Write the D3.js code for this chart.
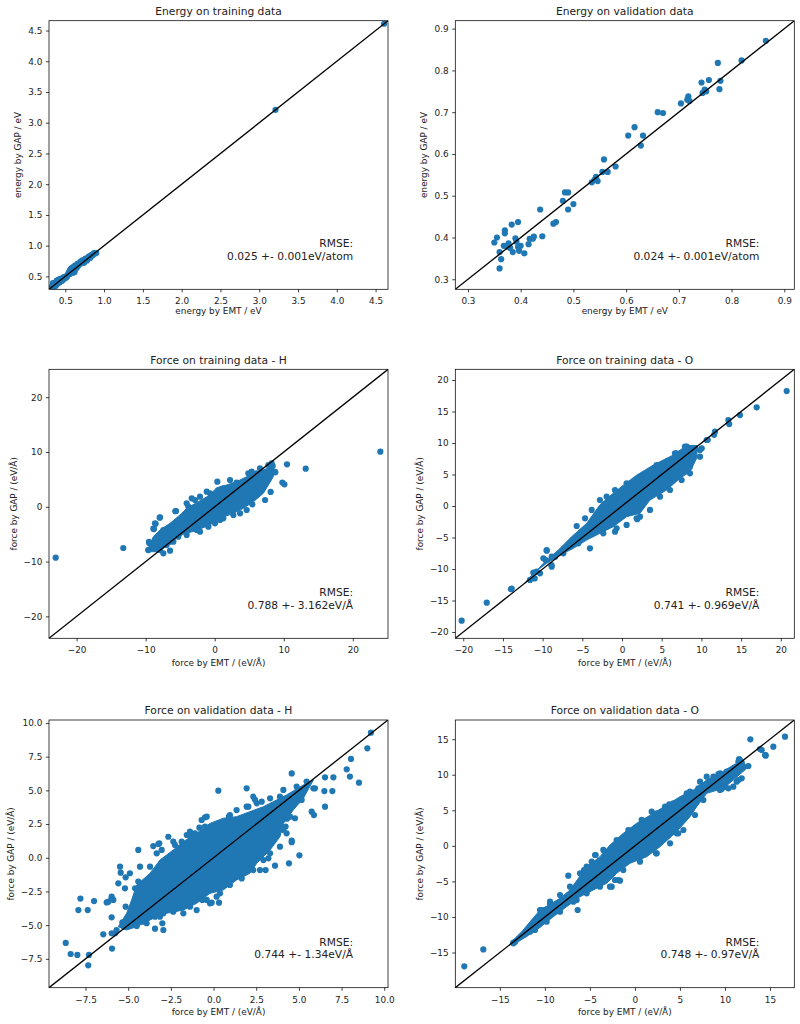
<!DOCTYPE html>
<html><head><meta charset="utf-8">
<script src="https://cdn.jsdelivr.net/npm/d3@7/dist/d3.min.js"></script>
<style>
body{margin:0;background:#fff;}
svg{display:block;font-family:"DejaVu Sans",sans-serif;}
</style></head><body>
<svg id="c" width="800" height="1024"></svg>
<script>
// ---------------- DATA ----------------
const panelTitles = ["Energy on training data","Energy on validation data",
  "Force on training data - H","Force on training data - O",
  "Force on validation data - H","Force on validation data - O"];
const xLabels = ["energy by EMT / eV","energy by EMT / eV",
  "force by EMT / (eV/Å)","force by EMT / (eV/Å)","force by EMT / (eV/Å)","force by EMT / (eV/Å)"];
const yLabels = ["energy by GAP / eV","energy by GAP / eV",
  "force by GAP / (eV/Å)","force by GAP / (eV/Å)","force by GAP / (eV/Å)","force by GAP / (eV/Å)"];
const rmseLines = [["RMSE:","0.025 +- 0.001eV/atom"],["RMSE:","0.024 +- 0.001eV/atom"],
  ["RMSE:","0.788 +- 3.162eV/Å"],["RMSE:","0.741 +- 0.969eV/Å"],
  ["RMSE:","0.744 +- 1.34eV/Å"],["RMSE:","0.748 +- 0.97eV/Å"]];
const axisLimits = [[0.29,4.66],[0.276,0.919],[-24.0,25.1],[-21.0,21.7],[-9.64,10.22],[-19.95,17.7]];
const tickValues = [
  [0.5,1.0,1.5,2.0,2.5,3.0,3.5,4.0,4.5],
  [0.3,0.4,0.5,0.6,0.7,0.8,0.9],
  [-20,-10,0,10,20],
  [-20,-15,-10,-5,0,5,10,15,20],
  [-7.5,-5.0,-2.5,0.0,2.5,5.0,7.5,10.0],
  [-15,-10,-5,0,5,10,15]];
const tickFormats = [".1f",".1f","d","d",".1f","d"];

const energyTrainPts = [[0.33,0.33],[0.34,0.36],[0.35,0.34],[0.36,0.38],[0.37,0.36],[0.38,0.40],[0.39,0.43],[0.40,0.38],[0.41,0.44],[0.42,0.45],[0.43,0.41],[0.44,0.46],[0.45,0.44],[0.46,0.47],[0.47,0.45],[0.48,0.49],[0.50,0.47],[0.51,0.50],[0.53,0.52],[0.55,0.57],[0.56,0.60],[0.57,0.62],[0.58,0.58],[0.59,0.64],[0.60,0.56],[0.61,0.66],[0.62,0.57],[0.63,0.68],[0.64,0.67],[0.66,0.71],[0.67,0.68],[0.69,0.73],[0.70,0.71],[0.72,0.73],[0.74,0.76],[0.75,0.74],[0.77,0.78],[0.79,0.79],[0.80,0.82],[0.82,0.83],[0.84,0.85],[0.86,0.86],[0.88,0.87],[0.90,0.88],[0.34,0.39],[0.36,0.33],[0.38,0.35],[0.40,0.43],[0.42,0.40],[0.44,0.42],[0.46,0.43],[0.48,0.46],[0.52,0.49],[0.54,0.55],[0.56,0.54],[0.58,0.63],[0.60,0.62],[0.62,0.65],[0.64,0.63],[0.66,0.66],[0.68,0.70],[0.70,0.74],[0.72,0.76],[0.74,0.72],[0.76,0.79],[0.78,0.76],[0.80,0.79],[0.82,0.80],[0.85,0.84],[0.87,0.88],[3.21,3.21],[4.61,4.61]];

const energyValPts = [[0.865,0.871],[0.819,0.824],[0.774,0.818],[0.757,0.777],[0.743,0.771],[0.779,0.775],[0.777,0.755],[0.749,0.754],[0.745,0.746],[0.752,0.750],[0.718,0.738],[0.716,0.730],[0.720,0.727],[0.704,0.721],[0.660,0.700],[0.670,0.698],[0.616,0.664],[0.604,0.644],[0.632,0.644],[0.628,0.620],[0.558,0.587],[0.580,0.570],[0.555,0.557],[0.565,0.557],[0.535,0.532],[0.540,0.538],[0.543,0.545],[0.546,0.535],[0.480,0.488],[0.484,0.508],[0.490,0.508],[0.490,0.467],[0.500,0.480],[0.437,0.467],[0.462,0.433],[0.467,0.437],[0.395,0.437],[0.383,0.431],[0.370,0.417],[0.370,0.410],[0.355,0.400],[0.350,0.388],[0.368,0.380],[0.377,0.386],[0.390,0.398],[0.392,0.390],[0.380,0.375],[0.385,0.365],[0.395,0.377],[0.397,0.368],[0.360,0.365],[0.363,0.348],[0.360,0.326],[0.407,0.362],[0.415,0.384],[0.417,0.397],[0.425,0.402],[0.423,0.397],[0.441,0.403],[0.375,0.378],[0.400,0.380]];

// outline of the saturated (overlapping) point cloud
const forceTrainHCore = [[-9.61,-7.58],[-8.89,-5.45],[-7.92,-4.23],[-6.47,-3.01],[-5.03,-1.49],[-4.06,-0.28],[-2.37,0.94],[-0.68,2.16],[0.28,3.5],[1.73,3.98],[3.18,4.6],[4.63,5.5],[6.08,6.2],[7.53,7.0],[8.49,7.2],[8.49,5.5],[7.77,3.98],[7.04,2.46],[5.60,0.94],[4.15,-0.28],[2.70,-1.19],[0.77,-2.10],[-0.68,-3.3],[-2.61,-4.3],[-4.54,-5.0],[-5.99,-6.0],[-7.20,-7.3],[-7.92,-8.2],[-9.13,-8.19]];
const forceTrainHPts = [[-23.03,-9.28],[-13.24,-7.52],[23.99,10.06],[13.18,6.96],[10.47,7.76],[8.73,6.4],[8.78,6.3],[9.8,4.42],[10.1,4.1],[8.1,2.72],[8.4,7.45],[8.25,7.94],[5.45,0.45],[7.29,1.24],[4.63,-0.58],[3.67,-1.19],[0.38,4.59],[2.22,4.89],[-0.68,2.46],[-2.85,1.24],[-3.82,0.03],[-5.6,-0.76],[-5.7,-0.8],[-7.92,-1.92],[-7.97,-1.98],[-8.55,-3.1],[-8.65,-3.0],[-8.8,-4.06],[-8.89,-3.99],[-7.44,-4.23],[-7.68,-5.75],[-8.4,-6.06],[-9.47,-6.66],[-9.52,-6.4],[-9.61,-7.88],[-9.6,-7.9],[-7.92,-7.88],[-7.44,-8.49],[-6.47,-6.36],[-5.27,-5.45],[-2.61,-4.23],[0.04,-3.01],[0.77,-2.4],[2.7,-1.49],[5.36,6.42],[6.08,6.11],[7.53,5.62],
  [-4.06,0.64],[-3.33,1.55],[-2.13,1.85],[-1.16,2.77],[1.25,3.37],[3.18,4.41],[4.87,6.11],[6.56,7.02],[7.77,7.63],[6.8,3.07],[1.25,-2.1],[-0.92,-3.62],[-2.13,-4.53],[-4.06,-5.14],[-5.99,-6.36],[-6.96,-6.97],[-6.47,-8.0],[-8.65,-6.97]];

const forceTrainOCore = [[-12.01,-12.01],[-9.91,-9.1],[-8.02,-6.98],[-6.34,-4.87],[-4.45,-2.75],[-2.78,0.2],[-1.52,1.6],[0.16,3.3],[1.84,4.9],[3.94,6.5],[6.46,8.1],[8.14,9.6],[9.5,9.6],[9.4,7.57],[8.56,5.45],[7.3,4.39],[5.62,2.54],[3.52,0.95],[2.26,-1.16],[0.58,-1.69],[-1.1,-3.28],[-2.78,-4.34],[-4.45,-5.4],[-6.13,-6.72],[-7.81,-7.78],[-9.49,-9.1],[-11.17,-10.69],[-12.3,-12.3]];
const forceTrainOPts = [[-20.2,-18.2],[-17.04,-15.35],[-14.0,-13.2],[-13.9,-13.12],[20.74,18.25],[16.96,15.67],[14.86,14.44],[13.39,13.65],[13.5,13.0],[11.71,11.8],[11.6,11.3],[10.8,10.5],[10.66,10.48],[10.04,9.16],[8.15,9.4],[8.14,9.42],[6.67,8.36],[9.82,8.89],[8.56,6.25],[4.8,5.0],[4.78,1.48],[1.84,-1.96],[1.92,-2.1],[0.58,-3.01],[-4.03,-3.28],[-5.71,-3.17],[-0.88,-4.08],[-4.04,-6.72],[-9.49,-7.09],[-9.49,-6.99],[-9.6,-8.6],[-8.86,-8.04],[-8.88,-9.4],[-8.86,-9.63],[-10.75,-10.43],[-11.17,-10.58],[-10.33,-10.69],[-11.0,-11.5],[-11.59,-11.74],
  [-4.66,-1.96],[-3.82,-0.63],[-2.78,0.95],[-1.94,1.48],[-0.89,2.54],[0.58,3.6],[3.1,4.66],[4.36,6.51],[5.62,7.04],[6.88,8.36],[7.93,9.42],[-5.5,-5.92],[-2.36,-4.34],[-0.68,-3.54],[2.26,-1.69],[3.52,-0.63],[6.04,2.54],[7.51,4.13],[8.56,5.19],[9.82,7.83],[-6.55,-6.45],[-7.39,-7.51],[-8.44,-8.04],[-9.91,-8.3]];

const forceValHCore = [[-5.58,-5.11],[-5.09,-4.12],[-4.8,-3.13],[-4.5,-2.02],[-3.72,-1.15],[-3.14,-0.17],[-2.36,0.58],[-1.77,1.2],[-0.99,1.81],[-0.21,2.55],[0.57,2.93],[1.35,3.05],[2.13,3.42],[2.92,3.79],[3.7,4.29],[4.28,4.66],[5.26,5.4],[5.85,5.77],[5.26,4.41],[4.67,3.54],[4.09,2.55],[3.89,1.56],[3.31,0.58],[2.53,-0.41],[2.13,-1.15],[1.35,-1.65],[0.57,-2.39],[-0.21,-2.64],[-0.99,-3.38],[-1.77,-3.88],[-2.75,-4.12],[-3.33,-4.37],[-3.92,-4.74],[-4.5,-5.11],[-5.09,-5.36]];
const forceValHPts = [[9.22,9.28],[9.01,8.12],[8.05,7.33],[7.80,6.56],[7.99,6.02],[8.52,5.57],[7.02,5.97],[6.53,5.97],[6.49,4.95],[6.96,4.95],[6.53,3.79],[4.58,6.26],[5.45,5.65],[5.85,5.15],[5.94,5.15],[5.75,3.42],[5.88,3.17],[5.16,4.29],[4.77,2.93],[4.58,1.27],[4.58,1.15],[5.03,0.18],[4.42,-0.41],[3.6,-0.59],[3.05,-0.91],[1.94,5.15],[1.94,3.79],[0.28,4.98],[2.33,4.53],[2.43,4.3],[3.7,2.68],[4.22,2.31],[4.3,2.9],[-4.41,0.58],[-5.48,-0.66],[-5.44,-1.11],[-5.15,-1.45],[-7.8,-3.03],[-7.92,-3.88],[-7.37,-3.88],[-7.0,-3.21],[-6.26,-3.31],[-5.97,-2.89],[-5.87,-3.13],[-5.15,-3.63],[-5.97,-4.42],[-5.77,-5.6],[-6.46,-5.68],[-5.95,-6.74],[-8.66,-6.32],[-8.37,-7.14],[-7.98,-7.21],[-7.3,-7.21],[-7.34,-7.98],[-5.34,-4.79],[-5.25,-5.11],[-4.5,-5.06],[-3.43,-5.26],[-2.94,-5.36],[-3.0,-4.86],[-0.11,-3.33],[0.32,-3.33],[-0.66,-3.13],[-3.53,0.87],[-3.18,1.07],[-3.04,0.58],[-4.41,-1.77],[-4.6,-2.27],[-2.26,0.95],[-1.87,1.19],[-1.32,1.64],[-0.83,2.23],[-0.5,3.0],[0.9,3.05],[-5.97,-3.01],[-6.16,-3.26],[-3.72,-0.66],[-3.33,0.33],[-3.23,1.02],[-2.36,1.2],[-1.57,1.69],[-1.09,1.81],[-0.4,3.05],[2.04,3.79],[2.53,4.04],[3.31,4.41],[3.89,4.53],[4.87,5.27],[3.89,2.8],[4.09,2.06],[3.31,0.33],[2.92,-0.17],[2.72,-0.91],[1.74,-1.15],[0.57,-1.65],[0.18,-2.89],[-0.21,-3.38],[-0.99,-3.88],[-1.77,-4.12],[-2.94,-4.12],[-3.43,-4.37],[-3.92,-4.86],[-4.99,-4.86],[-5.28,-4.99],[-5.68,-5.36],[-5.97,-5.6],
  [-4.9,-1.15],[-5.19,-2.27],[-5.58,-1.9],[-4.31,-0.66],[-2.65,1.56],[-1.38,1.94],[-0.5,2.31],[-0.7,2.8],[0.96,3.17],[1.35,3.54],[2.82,4.16],[4.09,5.03],[4.48,3.05],[4.28,1.81],[3.89,0.82],[3.21,-0.04],[2.33,-0.91],[1.65,-1.53],[0.96,-2.02],[0.38,-2.64],[-0.4,-3.13],[-1.38,-3.63],[-2.36,-4.0],[-3.14,-4.37],[-4.11,-4.74]];

const forceValOCore = [[-13.88,-13.71],[-12.58,-12.07],[-10.54,-9.02],[-8.32,-7.38],[-7.21,-6.21],[-5.36,-2.93],[-3.88,-1.52],[-2.77,0.12],[-1.29,1.76],[0.19,3.17],[2.05,4.57],[3.53,5.75],[5.01,6.92],[6.49,7.86],[7.97,9.26],[9.45,10.2],[10.93,11.37],[12.04,12.07],[12.41,10.9],[10.93,9.26],[9.82,8.09],[7.97,7.39],[6.86,5.51],[6.12,4.10],[4.64,2.0],[2.79,-0.11],[1.31,-1.52],[-0.55,-2.46],[-2.03,-3.87],[-3.14,-5.27],[-4.62,-6.21],[-6.1,-7.15],[-7.58,-8.55],[-9.06,-9.96],[-10.91,-11.83],[-12.95,-13.48]];
const forceValOPts = [[-18.95,-16.95],[-16.84,-14.56],[-13.5,-13.71],[-13.3,-13.5],[-12.21,-12.3],[16.67,15.36],[12.82,14.98],[15.37,13.95],[14.52,12.68],[13.89,13.62],[12.6,11.23],[11.56,12.17],[11.8,11.9],[11.49,11.8],[11.49,9.26],[9.64,8.0],[10.0,8.3],[9.45,10.2],[7.23,9.03],[3.34,5.51],[3.9,5.51],[4.64,1.76],[2.34,-1.05],[-4.36,-1.29],[-7.4,-4.2],[-1.84,-4.8],[-2.77,-5.74],[-6.36,-9.02],[-10.54,-9.02],[-10.0,-9.02],[-11.28,-11.37],[-12.21,-12.45],[-5.36,-2.93],[-4.43,-1.29],[-1.66,-4.9],[-2.58,-5.74],[3.82,5.84],[9.82,8.32],[14.5,12.78],[-6.29,-5.74],[-6.84,-6.21],[-6.47,-7.62],[-10.36,-9.02],[-9.43,-8.18],[-9.06,-8.79],[-9.8,-9.96],[-11.28,-10.8],[-10.73,-11.13],[-11.1,-11.83],[-13.5,-13.62],[-5.65,-3.4],[0.56,-1.6],[1.86,4.81],[4.82,1.76],[4.27,2.23],[7.97,9.73],[9.27,10.1],[10.38,8.09],[11.3,9.03],[11.86,9.5],[11.6,12.17],[14.08,13.48],[14.45,12.78],[6.12,7.62],
  [-9.43,-7.85],[-8.32,-6.91],[-7.21,-5.74],[-6.1,-3.87],[-4.8,-2.22],[-3.51,-0.58],[-2.03,0.82],[-0.73,2.23],[0.75,3.64],[2.42,4.57],[4.27,5.98],[5.75,7.39],[7.04,8.09],[8.71,9.73],[10.19,10.43],[10.93,8.32],[9.45,7.86],[7.6,6.45],[6.67,4.34],[5.38,2.23],[3.9,0.35],[2.42,-1.05],[0.56,-2.22],[-1.29,-3.4],[-2.21,-4.8],[-3.88,-5.74],[-5.36,-6.68],[-6.84,-7.85],[-8.32,-9.26],[-9.8,-10.66],[-11.65,-12.07]];

const panelPoints = [energyTrainPts, energyValPts, forceTrainHPts, forceTrainOPts, forceValHPts, forceValOPts];
const panelCores = [null, null, forceTrainHCore, forceTrainOCore, forceValHCore, forceValOCore];

// ---------------- LAYOUT ----------------
const boxes = [
  [49,20.7,339,268.6],[455.3,20.7,339,268.6],
  [49,369.3,339,269],[455.3,369.3,339,269],
  [49,720,339,267.7],[455.3,720,339,267.7]];
const BLUE = "#1f77b4", TXT = "#222";
const R = 3.1, TICK = 3.1;

const svg = d3.select("#c");
const defs = svg.append("defs");

panelTitles.forEach((title, i) => {
  const [x0,y0,w,h] = boxes[i];
  const lim = axisLimits[i];
  const x = d3.scaleLinear().domain(lim).range([x0, x0 + w]);
  const y = d3.scaleLinear().domain(lim).range([y0 + h, y0]);
  const g = svg.append("g");

  defs.append("clipPath").attr("id", "clip" + i)
    .append("rect").attr("x", x0).attr("y", y0).attr("width", w).attr("height", h);
  const plot = g.append("g").attr("clip-path", `url(#clip${i})`);

  if (panelCores[i]) {
    plot.append("path")
      .attr("d", d3.line().x(d => x(d[0])).y(d => y(d[1])).curve(d3.curveLinearClosed)(panelCores[i]))
      .attr("fill", BLUE).attr("stroke", BLUE).attr("stroke-width", 1).attr("stroke-linejoin", "round");
  }
  plot.selectAll("circle").data(panelPoints[i]).join("circle")
    .attr("cx", d => x(d[0])).attr("cy", d => y(d[1])).attr("r", R).attr("fill", BLUE);

  plot.append("line")
    .attr("x1", x(lim[0])).attr("y1", y(lim[0]))
    .attr("x2", x(lim[1])).attr("y2", y(lim[1]))
    .attr("stroke", "#000").attr("stroke-width", 1.33);

  const fmt = d3.format(tickFormats[i]);
  const xa = g.append("g").attr("transform", `translate(0,${y0 + h})`)
    .call(d3.axisBottom(x).tickValues(tickValues[i]).tickFormat(fmt).tickSize(TICK).tickPadding(5.4));
  const ya = g.append("g").attr("transform", `translate(${x0},0)`)
    .call(d3.axisLeft(y).tickValues(tickValues[i]).tickFormat(fmt).tickSize(TICK).tickPadding(3.6));
  [xa, ya].forEach(a => {
    a.select(".domain").remove();
    a.attr("font-size", 8.9).attr("font-family", "DejaVu Sans");
    a.selectAll("line").attr("stroke", "#000").attr("stroke-width", 0.75);
    a.selectAll("text").attr("fill", TXT);
  });

  g.append("rect").attr("x", x0).attr("y", y0).attr("width", w).attr("height", h)
    .attr("fill", "none").attr("stroke", "#000").attr("stroke-width", 0.75);

  g.append("text").attr("x", x0 + w / 2).attr("y", y0 - 5.8)
    .attr("text-anchor", "middle").attr("font-size", 10.7).attr("fill", TXT).text(title);

  const isForce = i >= 2;
  g.append("text").attr("x", x0 + w / 2).attr("y", y0 + h + (isForce ? 27.7 : 24.9))
    .attr("text-anchor", "middle").attr("font-size", 8.9).attr("fill", TXT).text(xLabels[i]);

  let maxW = 0;
  ya.selectAll("text").each(function () { maxW = Math.max(maxW, this.getBBox().width); });
  const lx = x0 - (maxW + 13.4), ly = y0 + h / 2;
  g.append("text").attr("transform", `translate(${lx},${ly}) rotate(-90)`)
    .attr("text-anchor", "middle").attr("font-size", 8.9).attr("fill", TXT).text(yLabels[i]);

  const bx = x0 + 0.9 * w - 1, by = y0 + h - 0.1 * h - 2.6;
  const t = g.append("text").attr("text-anchor", "end").attr("font-size", 10.7).attr("fill", TXT);
  t.append("tspan").attr("x", bx).attr("y", by - 12.8).text(rmseLines[i][0]);
  t.append("tspan").attr("x", bx).attr("y", by).text(rmseLines[i][1]);
});
</script></body></html>
